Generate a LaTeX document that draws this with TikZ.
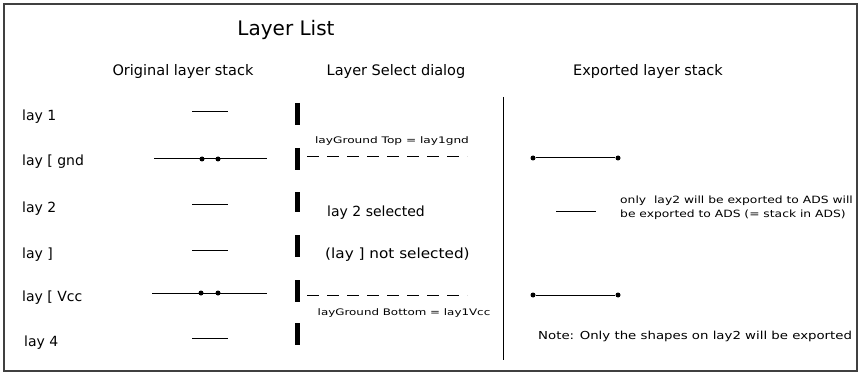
\documentclass[tikz,border=0pt]{standalone}
\usepackage{fontspec}
\usepackage{graphicx}
\setmainfont{DejaVu Sans}
\newcommand{\widetxt}[2]{\scalebox{#1}[1]{#2}}
\begin{document}
\begin{tikzpicture}[x=1pt,y=-1pt,
  lbl/.style={anchor=west, inner sep=0pt, font=\fontsize{14}{16}\selectfont},
  hdr/.style={anchor=center, inner sep=0pt, font=\fontsize{14.5}{17}\selectfont},
  small/.style={inner sep=0pt, font=\fontsize{9}{11}\selectfont},
  mid/.style={inner sep=0pt, font=\fontsize{10}{14}\selectfont},
  layline/.style={line width=1pt},
  barline/.style={line width=4.5pt},
  dot/.style={circle, fill, inner sep=0pt, minimum size=5pt},
  dsh/.style={line width=1pt, dash pattern=on 12pt off 8pt}]
\useasboundingbox (0,0) rectangle (861,374);
\draw[black!75, line width=1.5pt] (4,4) rectangle (857,371);
% title and headers
\node[inner sep=0pt, font=\fontsize{20}{24}\selectfont] (title) at (286,30) {Layer List};
\node[hdr] (h1) at (183,72) {Original layer stack};
\node[hdr] (h2) at (396,72) {Layer Select dialog};
\node[hdr] (h3) at (648,72) {Exported layer stack};
% row labels
\node[lbl] (r1) at (22,117) {lay 1};
\node[lbl] (r2) at (22,162) {lay [ gnd};
\node[lbl] (r3) at (22,209) {lay 2};
\node[lbl] (r4) at (22,255) {lay ]};
\node[lbl] (r5) at (22,298) {lay [ Vcc};
\node[lbl] (r6) at (24,343) {lay 4};
% original stack
\coordinate (a1) at (192,112); \coordinate (b1) at (228,112);
\draw[layline] (a1) -- (b1);
\coordinate (a2) at (154,159); \coordinate (b2) at (267,159);
\draw[layline] (a2) -- (b2);
\node[dot] (d21) at (202,159) {}; \node[dot] (d22) at (218,159) {};
\coordinate (a3) at (192,204); \coordinate (b3) at (228,204);
\draw[layline] (a3) -- (b3);
\coordinate (a4) at (192,250); \coordinate (b4) at (228,250);
\draw[layline] (a4) -- (b4);
\coordinate (a5) at (152,293); \coordinate (b5) at (267,293);
\draw[layline] (a5) -- (b5);
\node[dot] (d51) at (201,293) {}; \node[dot] (d52) at (218,293) {};
\coordinate (a6) at (192,338); \coordinate (b6) at (228,338);
\draw[layline] (a6) -- (b6);
% bars
\foreach \t/\b [count=\i] in {103/125,148/170,192/212,235/257,280/302,323/345}{
  \coordinate (bt\i) at (297.5,\t); \coordinate (bb\i) at (297.5,\b);
  \draw[barline] (bt\i) -- (bb\i);
}
% dialog
\coordinate (ds1) at (307,157); \coordinate (de1) at (467,157);
\draw[dsh] (ds1) -- (de1);
\node[small] (top) at (392,141) {\widetxt{1.35}{layGround Top = lay1gnd}};
\coordinate (ds2) at (307,295); \coordinate (de2) at (467,295);
\draw[dsh] (ds2) -- (de2);
\node[small] (bot) at (404,313) {\widetxt{1.32}{layGround Bottom = lay1Vcc}};
\node[lbl] (sel) at (327,213) {lay 2 selected};
\node[lbl] (nsel) at (325,255) {\widetxt{1.09}{(lay ] not selected)}};
% divider
\coordinate (v1) at (503,97); \coordinate (v2) at (503,360);
\draw[line width=1pt] (v1) -- (v2);
% exported
\node[dot] (e1a) at (533,158) {}; \node[dot] (e1b) at (618,158) {};
\draw[layline] (e1a) -- (e1b);
\coordinate (e2a) at (556,211); \coordinate (e2b) at (596,211);
\draw[layline] (e2a) -- (e2b);
\node[dot] (e3a) at (533,295) {}; \node[dot] (e3b) at (618,295) {};
\draw[layline] (e3a) -- (e3b);
\node[mid, anchor=west] (only) at (620,208) {\widetxt{1.23}{\begin{tabular}{@{}l@{}}only\ \ lay2 will be exported to ADS will\\be exported to ADS (= stack in ADS)\end{tabular}}};
\node[inner sep=0pt, anchor=west, font=\fontsize{11}{13}\selectfont] (note) at (538,336) {\widetxt{1.21}{Note: Only the shapes on lay2 will be exported}};
\end{tikzpicture}
\end{document}
